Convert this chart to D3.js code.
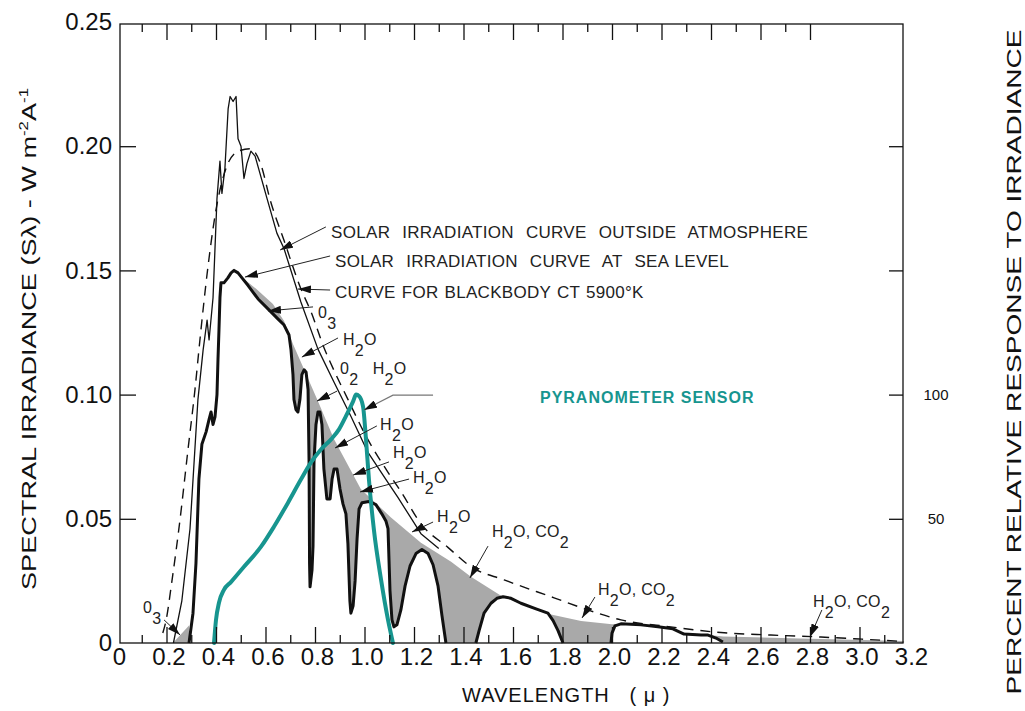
<!DOCTYPE html>
<html><head><meta charset="utf-8">
<script src="https://cdn.jsdelivr.net/npm/d3@7"></script>
<style>
html,body{margin:0;padding:0;background:#fff;}
svg{display:block;font-family:"Liberation Sans",Arial,Helvetica,sans-serif;}
</style></head><body>
<svg id="chart" width="1025" height="711"></svg>
<script>
// Wavelength in microns, spectral irradiance in W m^-2 A^-1
const blackbody5900 = [
  [0.185,0.004],[0.198,0.009],[0.222,0.025],[0.255,0.05],[0.287,0.078],[0.315,0.102],
  [0.335,0.122],[0.367,0.151],[0.396,0.172],[0.444,0.192],[0.49,0.198],[0.537,0.199],
  [0.58,0.193],[0.62,0.178],[0.675,0.162],[0.743,0.1426],[0.784,0.1333],[0.836,0.119],
  [0.88,0.109],[0.933,0.0981],[0.998,0.0848],[1.095,0.0687],[1.147,0.061],[1.228,0.048],
  [1.337,0.0385],[1.43,0.0307],[1.564,0.0254],[1.766,0.0182],[1.903,0.0133],[2.036,0.0093],
  [2.238,0.0065],[2.44,0.0042],[2.642,0.0032],[2.844,0.0024],[3.0,0.0016],[3.18,0.0006]
];
const outsideAtmosphere = [
  [0.228,0],[0.262,0.017],[0.295,0.046],[0.327,0.098],[0.348,0.118],[0.364,0.130],
  [0.372,0.122],[0.388,0.139],[0.404,0.179],[0.416,0.194],[0.424,0.181],[0.436,0.191],
  [0.449,0.215],[0.457,0.220],[0.469,0.218],[0.481,0.220],[0.489,0.203],[0.501,0.200],
  [0.513,0.187],[0.525,0.193],[0.541,0.198],[0.558,0.196],[0.606,0.179],[0.646,0.165],
  [0.675,0.1587],[0.743,0.1373],[0.812,0.1183],[0.877,0.105],[0.945,0.0913],[1.014,0.0767],
  [1.095,0.0646],[1.135,0.0586],[1.228,0.044],[1.30,0.038]
];
// Sea-level irradiance, split into its three transmission windows
const seaLevelVisible = [
  [0.291,0],[0.307,0.012],[0.319,0.032],[0.331,0.066],[0.343,0.080],[0.36,0.085],
  [0.372,0.090],[0.38,0.093],[0.388,0.088],[0.396,0.091],[0.404,0.100],[0.408,0.114],
  [0.412,0.126],[0.416,0.139],[0.42,0.145],[0.432,0.145],[0.448,0.147],[0.461,0.149],
  [0.473,0.150],[0.489,0.149],[0.505,0.147],[0.529,0.144],[0.57,0.1385],[0.61,0.1345],
  [0.65,0.1305],[0.675,0.128],[0.695,0.124],[0.703,0.118],[0.711,0.108],[0.715,0.098],
  [0.723,0.094],[0.731,0.093],[0.739,0.098],[0.747,0.108],[0.756,0.110],[0.764,0.109],
  [0.772,0.102],[0.776,0.073],[0.778,0.032],[0.78,0.0226],[0.788,0.0295],[0.792,0.039],
  [0.796,0.073],[0.804,0.088],[0.812,0.093],[0.82,0.093],[0.828,0.088],[0.836,0.07],
  [0.848,0.058],[0.861,0.058],[0.869,0.066],[0.877,0.070],[0.889,0.070],[0.901,0.062],
  [0.913,0.056],[0.925,0.052],[0.933,0.040],[0.941,0.017],[0.945,0.012],[0.954,0.015],
  [0.962,0.025],[0.97,0.042],[0.978,0.054],[0.99,0.0565],[1.018,0.057],[1.046,0.0557],
  [1.07,0.052],[1.087,0.049],[1.095,0.046],[1.103,0.021],[1.111,0.0093],[1.119,0.0065],
  [1.131,0.0073],[1.147,0.0133],[1.164,0.023],[1.184,0.031],[1.208,0.036],[1.232,0.0376],
  [1.257,0.036],[1.277,0.0315],[1.297,0.023],[1.313,0.011],[1.329,0]
];
const seaLevelNearIR = [
  [1.45,0],[1.463,0.005],[1.483,0.012],[1.511,0.016],[1.535,0.018],[1.56,0.0186],
  [1.592,0.018],[1.632,0.016],[1.693,0.0137],[1.741,0.012],[1.762,0.009],[1.782,0.005],[1.802,0]
];
const seaLevelShortIR = [
  [1.996,0],[2.0,0.004],[2.012,0.0069],[2.036,0.0077],[2.117,0.0073],[2.186,0.0065],
  [2.246,0.0057],[2.291,0.0036],[2.36,0.0032],[2.388,0.0032],[2.42,0.002],[2.448,0.0004]
];
// Upper edge of the atmospheric absorption (shaded) region
const absorptionEnvelope = [
  [0.473,0.1498],[0.562,0.1426],[0.63,0.1365],[0.675,0.1296],[0.711,0.1204],[0.812,0.0973],
  [0.877,0.082],[0.985,0.062],[1.107,0.0505],[1.228,0.0404],[1.35,0.0327],[1.43,0.0267],
  [1.555,0.0188],[1.673,0.0141],[1.754,0.0115],[1.875,0.0089],[2.0,0.0075],[2.04,0.0078],
  [2.19,0.0066],[2.29,0.0042],[2.45,0.0026],[2.76,0.0018],[3.18,0.0008]
];
const ozoneCutoff = [[0.226,0],[0.291,0.007],[0.291,0]];
// Pyranometer relative response, percent
const pyranometerResponse = [
  [0.392,0],[0.40,9.3],[0.412,16.2],[0.432,21.4],[0.461,24.6],[0.513,30.7],[0.582,38.8],
  [0.634,46.8],[0.691,56.5],[0.743,65.8],[0.784,72.7],[0.824,77.9],[0.865,82.0],[0.897,86.0],
  [0.925,91.3],[0.954,97.3],[0.966,100],[0.978,99.4],[0.994,95.3],[1.006,82.0],[1.018,65.8],
  [1.038,45.6],[1.067,25.4],[1.095,9.3],[1.115,0]
];
const xTickLabels = [0,0.2,0.4,0.6,0.8,1.0,1.2,1.4,1.6,1.8,2.0,2.2,2.4,2.6,2.8,3.0,3.2];
const yTickLabels = [0,0.05,0.10,0.15,0.20,0.25];
const responseTickLabels = [50,100];

// Curve legend callouts
const curveCallouts = [
  {text:"SOLAR  IRRADIATION  CURVE  OUTSIDE  ATMOSPHERE", at:[0.865,0.1632], from:[0.844,0.1675], to:[0.659,0.1582]},
  {text:"SOLAR  IRRADIATION  CURVE  AT  SEA LEVEL", at:[0.881,0.1514], from:[0.861,0.1558], to:[0.517,0.1473]},
  {text:"CURVE FOR BLACKBODY CT 5900\u00B0K", at:[0.881,0.1389], from:[0.861,0.1421], to:[0.731,0.1425]}
];
// Absorption band callouts: label text ("_n" = subscript), label anchor, leader start, arrow tip
const bandCallouts = [
  {text:"0_3", at:[0.812,0.1308], from:[0.792,0.1353], to:[0.61,0.1337]},
  {text:"H_2O", at:[0.913,0.12], from:[0.893,0.1228], to:[0.747,0.1151]},
  {text:"0_2   H_2O", at:[0.901,0.1083], from:[0.889,0.1014], to:[0.808,0.0974]},
  {text:"H_2O", at:[1.063,0.0857], from:[1.05,0.0874], to:[0.881,0.0785]},
  {text:"H_2O", at:[1.115,0.0745], from:[1.099,0.0729], to:[0.954,0.0676]},
  {text:"H_2O", at:[1.196,0.0644], from:[1.18,0.066], to:[0.982,0.0608]},
  {text:"H_2O", at:[1.293,0.0487], from:[1.277,0.0487], to:[1.192,0.0447]},
  {text:"H_2O, CO_2", at:[1.515,0.0427], from:[1.499,0.039], to:[1.426,0.0262]},
  {text:"H_2O, CO_2", at:[1.943,0.0193], from:[1.931,0.0185], to:[1.879,0.0101]},
  {text:"H_2O, CO_2", at:[2.812,0.0145], from:[2.848,0.0133], to:[2.8,0.0024]},
  {text:"0_3", at:[0.105,0.0121], from:[0.19,0.0093], to:[0.255,0.0032]}
];
const sensorLeader = [[1.277,0.0998],[1.115,0.0998],[0.998,0.0938]];
const sensorLabelAt = [1.709,0.0966];

const svg = d3.select("#chart");
const frame = {left:120, right:903, top:24, bottom:643};
const x = d3.scaleLinear().domain([0,3.2]).range([117,909]);
const y = d3.scaleLinear().domain([0,0.25]).range([643,22]);
const yPct = d3.scaleLinear().domain([0,100]).range([y(0), y(0.10)]);

const ink = "#111";
const teal = "#17958f";

const defs = svg.append("defs");
defs.append("marker").attr("id","arrowHead")
  .attr("viewBox","0 0 13 8").attr("refX",13).attr("refY",4)
  .attr("markerWidth",13).attr("markerHeight",8)
  .attr("markerUnits","userSpaceOnUse").attr("orient","auto")
  .append("path").attr("d","M0,0L13,4L0,8Z").attr("fill",ink);

const line = d3.line().x(d => x(d[0])).y(d => y(d[1]));
const smooth = d3.line().x(d => x(d[0])).y(d => y(d[1])).curve(d3.curveMonotoneX);

// Shaded absorption: between the envelope and the sea-level curve
const lastEnv = absorptionEnvelope[absorptionEnvelope.length-1];
const seaBottom = seaLevelVisible.filter(d => d[0] >= absorptionEnvelope[0][0])
  .concat(seaLevelNearIR, seaLevelShortIR, [[lastEnv[0],0]]);
const shade = absorptionEnvelope.concat(seaBottom.slice().reverse());
svg.append("path").attr("d", line(shade) + "Z").attr("fill","#a9a9a9").attr("stroke","none");
svg.append("path").attr("d", line(ozoneCutoff) + "Z").attr("fill","#a9a9a9").attr("stroke","none");

// Blackbody curve
svg.append("path").attr("d", smooth(blackbody5900)).attr("fill","none")
  .attr("stroke",ink).attr("stroke-width",1.4).attr("stroke-dasharray","10,7");
// Outside-atmosphere curve
svg.append("path").attr("d", line(outsideAtmosphere)).attr("fill","none")
  .attr("stroke",ink).attr("stroke-width",1.3).attr("stroke-linejoin","round");
// Sea-level curve
[seaLevelVisible, seaLevelNearIR, seaLevelShortIR].forEach(seg => {
  svg.append("path").attr("d", line(seg)).attr("fill","none")
    .attr("stroke",ink).attr("stroke-width",3).attr("stroke-linejoin","round");
});
// Pyranometer response
const pyrLine = d3.line().x(d => x(d[0])).y(d => yPct(d[1])).curve(d3.curveMonotoneX);
svg.append("path").attr("d", pyrLine(pyranometerResponse)).attr("fill","none")
  .attr("stroke",teal).attr("stroke-width",4).attr("stroke-linecap","round");

// Callout labels with subscripts
function chemText(g, str, px, py, size) {
  const t = g.append("text").attr("x",px).attr("y",py).attr("font-size",size)
    .attr("fill","#222").style("white-space","pre");
  const pieces = str.split(/(_\d)/).filter(s => s.length);
  let shifted = false;
  const drop = Math.round(size*0.7);
  pieces.forEach(p => {
    const sub = p[0] === "_";
    const ts = t.append("tspan").text(sub ? p.slice(1) : p);
    if (sub && !shifted) { ts.attr("dy", drop); shifted = true; }
    else if (!sub && shifted) { ts.attr("dy", -drop); shifted = false; }
  });
  return t;
}
const callG = svg.append("g");
function leader(c) {
  callG.append("line").attr("x1",x(c.from[0])).attr("y1",y(c.from[1]))
    .attr("x2",x(c.to[0])).attr("y2",y(c.to[1]))
    .attr("stroke","#222").attr("stroke-width",1).attr("marker-end","url(#arrowHead)");
}
curveCallouts.forEach(c => {
  leader(c);
  chemText(callG, c.text, x(c.at[0]), y(c.at[1]), 17)
    .attr("letter-spacing",0.3).attr("word-spacing",1);
});
bandCallouts.forEach(c => {
  leader(c);
  chemText(callG, c.text, x(c.at[0]), y(c.at[1]), 16).attr("letter-spacing",0.3);
});
svg.append("path").attr("d", line(sensorLeader)).attr("fill","none")
  .attr("stroke","#777").attr("stroke-width",1.2).attr("marker-end","url(#arrowHead)");
svg.append("text").attr("x",x(sensorLabelAt[0])).attr("y",y(sensorLabelAt[1]))
  .attr("font-size",16).attr("font-weight","bold").attr("letter-spacing",1)
  .attr("fill",teal).text("PYRANOMETER SENSOR");

// Frame
svg.append("rect").attr("x",frame.left).attr("y",frame.top)
  .attr("width",frame.right-frame.left).attr("height",frame.bottom-frame.top)
  .attr("fill","none").attr("stroke",ink).attr("stroke-width",1.3);

// Axes
function styleAxis(g, size) {
  g.select(".domain").remove();
  g.selectAll("line").attr("stroke",ink).attr("stroke-width",1.3);
  g.selectAll("text").attr("font-size",size).attr("fill",ink)
    .attr("font-family","'Liberation Sans',Arial,sans-serif");
}
const minorX = d3.range(1,32,2).map(i => i/10);
const majorX = d3.range(2,31,2).map(i => i/10);
svg.append("g").attr("transform",`translate(0,${frame.bottom})`)
  .call(d3.axisBottom(x).tickValues(majorX).tickSize(-16).tickFormat("")).call(g => styleAxis(g,0));
svg.append("g").attr("transform",`translate(0,${frame.bottom})`)
  .call(d3.axisBottom(x).tickValues(minorX).tickSize(-8).tickFormat("")).call(g => styleAxis(g,0));
svg.append("g").attr("transform",`translate(0,${frame.top})`)
  .call(d3.axisTop(x).tickValues(majorX.filter(v => v < 2.9)).tickSize(-16).tickFormat("")).call(g => styleAxis(g,0));
svg.append("g").attr("transform",`translate(0,${frame.top})`)
  .call(d3.axisTop(x).tickValues(minorX.filter(v => v < 2.8)).tickSize(-8).tickFormat("")).call(g => styleAxis(g,0));
svg.append("g").attr("transform",`translate(2,${frame.bottom})`)
  .call(d3.axisBottom(x).tickValues(xTickLabels).tickSize(0).tickPadding(5)
    .tickFormat(d => d === 0 ? "0" : d3.format(".1f")(d)))
  .call(g => styleAxis(g,24));

svg.append("g").attr("transform",`translate(${frame.left},0)`)
  .call(d3.axisLeft(y).tickValues([0.05,0.10,0.15,0.20]).tickSize(-16).tickFormat(""))
  .call(g => styleAxis(g,0));
svg.append("g").attr("transform",`translate(${frame.left},0)`)
  .call(d3.axisLeft(y).tickValues(yTickLabels).tickSize(0).tickPadding(8)
    .tickFormat(d => d === 0 ? "0" : d3.format(".2f")(d)))
  .call(g => styleAxis(g,24));
svg.append("g").attr("transform",`translate(${frame.right},0)`)
  .call(d3.axisRight(y).tickValues([0.05,0.10,0.15,0.20]).tickSize(-14).tickFormat(""))
  .call(g => styleAxis(g,0));
svg.append("g").attr("transform",`translate(${frame.right},0)`)
  .call(d3.axisRight(yPct).tickValues(responseTickLabels).tickSize(0).tickPadding(33))
  .call(g => styleAxis(g,15))
  .call(g => g.selectAll("text").attr("text-anchor","middle"));

// Axis titles
const yTitle = svg.append("text").attr("transform","translate(36,339) rotate(-90)")
  .attr("text-anchor","middle").attr("font-size",21).attr("fill",ink)
  .attr("textLength",502).attr("lengthAdjust","spacingAndGlyphs");
yTitle.append("tspan").text("SPECTRAL IRRADIANCE (S\u03BB) - W m");
yTitle.append("tspan").attr("dy",-8).attr("font-size",13).text("-2");
yTitle.append("tspan").attr("dy",8).text("A");
yTitle.append("tspan").attr("dy",-8).attr("font-size",13).text("-1");

svg.append("text").attr("transform","translate(1021,362) rotate(-90)")
  .attr("text-anchor","middle").attr("font-size",21).attr("fill",ink)
  .attr("textLength",665).attr("lengthAdjust","spacingAndGlyphs")
  .text("PERCENT RELATIVE RESPONSE TO IRRADIANCE");

svg.append("text").attr("x",462).attr("y",702).attr("font-size",20)
  .attr("letter-spacing",1).attr("fill",ink).style("white-space","pre")
  .text("WAVELENGTH   ( \u03BC )");
</script>
</body></html>
